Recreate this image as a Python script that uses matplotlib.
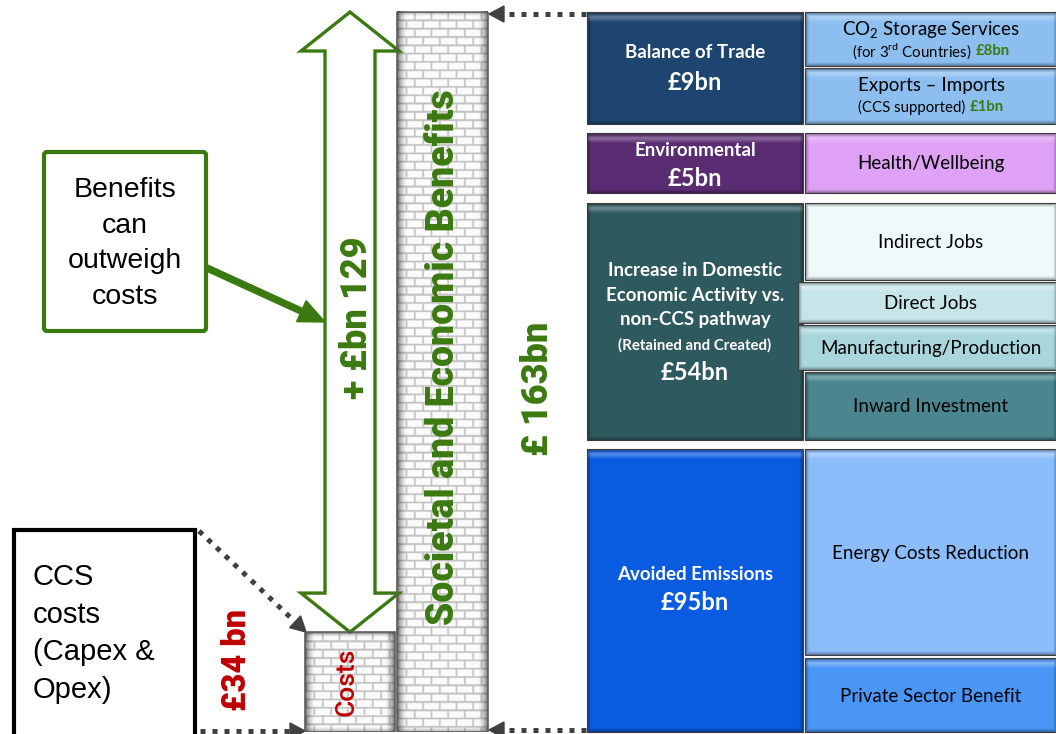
import numpy as np
import matplotlib
matplotlib.use("Agg")
import matplotlib.pyplot as plt
from matplotlib.patches import Polygon, Rectangle, FancyBboxPatch
from matplotlib.colors import to_rgb

# ---------------- data (£bn) ----------------
bar_labels = ["Costs", "Societal and Economic Benefits"]
bar_values = [34, 163]
net_benefit = 129

group_names = ["Balance of Trade", "Environmental",
               "Increase in Domestic\nEconomic Activity vs.\nnon-CCS pathway",
               "Avoided Emissions"]
group_notes = ["", "", "(Retained and Created)", ""]
group_values = [9, 5, 54, 95]

trade_items = [r"CO$_\mathregular{2}$ Storage Services", "Exports \u2013 Imports"]
trade_notes = [r"(for 3$^\mathregular{rd}$ Countries)", "(CCS supported)"]
trade_values = [8, 1]
env_items = ["Health/Wellbeing"]
domestic_items = ["Indirect Jobs", "Direct Jobs", "Manufacturing/Production", "Inward Investment"]
emission_items = ["Energy Costs Reduction", "Private Sector Benefit"]

# ---------------- styling ----------------
GREEN = "#3b7a10"
RED = "#c00000"
DARK = "#404040"
UI = ["Lato", "DejaVu Sans"]
BIG = ["Roboto", "DejaVu Sans"]
ARIAL = ["Liberation Sans", "DejaVu Sans"]

group_colors = ["#1d4570", "#5a2d73", "#2f5a60", "#0a5be0"]
trade_colors = ["#8cbff0", "#8cbff0"]
env_colors = ["#e0a2f5"]
domestic_colors = ["#eef9fb", "#c6e5ea", "#a9d6dd", "#4a8590"]
emission_colors = ["#8cbdfb", "#4a97f8"]

TXT = 13.5      # regular box text
HEAD = 13.5     # bold group heading
VAL = 17        # group value
NOTE = 10.8     # small notes

W, H = 1056, 734
fig = plt.figure(figsize=(W / 100, H / 100), dpi=100)
ax = fig.add_axes([0, 0, 1, 1])
ax.set_xlim(0, W)
ax.set_ylim(H, 0)
ax.axis("off")

# value axis for the two wall bars (power scale keeps the costs bar readable)
P = 1.26
bx = fig.add_axes([290 / W, 2 / H, 210 / W, 720 / H])
bx.set_xlim(290, 500)
bx.set_yscale("function", functions=(lambda v: np.sign(v) * np.abs(v) ** P,
                                     lambda v: np.sign(v) * np.abs(v) ** (1 / P)))
bx.set_ylim(0, max(bar_values))
bx.axis("off")
bx.patch.set_alpha(0)


def to_px(x, v):
    return ax.transData.inverted().transform(bx.transData.transform((x, v)))


def brick_wall(w, h, s=3):
    hh, ww = int(round(h * s)), int(round(w * s))
    yy, xx = np.mgrid[0:hh, 0:ww] / s
    rh, bw = 8.3, 16.7
    row = np.floor(yy / rh)
    xo = (xx + (row % 2) * bw / 2) % bw
    yo = yy % rh
    mortar = (yo < 1.8) | (xo < 1.8)
    g = np.where(mortar, 0.76, 0.985)
    d = np.minimum(xx, w - xx)
    g = g * (1 - 0.55 * np.clip(1 - d / 10, 0, 1) ** 1.6)
    dv = np.minimum(yy, h - yy)
    g = g * (1 - 0.3 * np.clip(1 - dv / 5, 0, 1))
    return np.dstack([g, g, g])


def bevel(w, h, color, s=2):
    base = np.array(to_rgb(color))
    yy, xx = np.mgrid[0:int(round(h * s)), 0:int(round(w * s))] / s
    img = np.ones(yy.shape + (3,)) * base
    top = np.clip(1 - np.abs(yy - 5) / 5, 0, 1)
    img = img + (1 - img) * 0.3 * top[..., None]
    e = np.minimum(np.minimum(xx, w - xx), np.minimum(yy, h - yy))
    edge = np.clip(1 - e / 4, 0, 1)
    img = img * (1 - 0.4 * edge[..., None])
    return img


def box(x0, y0, x1, y1, color, z=2):
    ax.imshow(bevel(x1 - x0, y1 - y0, color), extent=(x0, x1, y1, y0),
              aspect="auto", interpolation="bilinear", zorder=z)
    ax.add_patch(Rectangle((x0, y0), x1 - x0, y1 - y0, fill=False,
                           ec="#3c3c3c", lw=0.8, zorder=z + 0.1))


def dotted_arrow(p_from, p_to, head_len=15, head_w=16):
    p0, p1 = np.array(p_from, float), np.array(p_to, float)
    d = p1 - p0
    u = d / np.hypot(*d)
    n = np.array([-u[1], u[0]])
    base = p1 - u * head_len
    ax.plot([p0[0], base[0]], [p0[1], base[1]], color=DARK, lw=3.6,
            linestyle=(0, (1, 1.4)), dash_capstyle="butt", zorder=5)
    ax.add_patch(Polygon([p1, base + n * head_w / 2, base - n * head_w / 2],
                         closed=True, color=DARK, zorder=5))


def two_part(xc, y, s1, s2, size, c2, gap=4):
    r = fig.canvas.get_renderer()
    t1 = ax.text(0, y, s1, fontsize=size, family=UI, color="black",
                 ha="left", va="center", zorder=6)
    t2 = ax.text(0, y, s2, fontsize=size, family=UI, color=c2, weight="bold",
                 ha="left", va="center", zorder=6)
    w1 = t1.get_window_extent(r).width
    w2 = t2.get_window_extent(r).width
    left = xc - (w1 + gap + w2) / 2
    t1.set_x(left)
    t2.set_x(left + w1 + gap)


def heading(x, y, s, size):
    ax.text(x, y, s, color="white", fontsize=size, weight="bold",
            family=UI, ha="center", va="center", zorder=6)


# ---------------- wall bars ----------------
bars = bx.bar([350, 442.5], bar_values, width=[90, 91], color="none",
              edgecolor="#5e5e5e", linewidth=1.2, zorder=3)
for b in bars:
    (xa, ya) = to_px(b.get_x(), b.get_height())
    (xb, yb) = to_px(b.get_x() + b.get_width(), 0)
    ax.imshow(brick_wall(xb - xa, yb - ya), extent=(xa, xb, yb, ya),
              aspect="auto", interpolation="bilinear", zorder=1)

cost_mid = (to_px(350, bar_values[0])[1] + to_px(350, 0)[1]) / 2
ax.text(347, cost_mid, bar_labels[0], rotation=90, color=RED, fontsize=19,
        weight="medium", family=BIG, ha="center", va="center", zorder=4)
bcx = to_px(442.5, 0)[0]
ax.text(bcx + 1, 357, bar_labels[1], rotation=90, color=GREEN, fontsize=27,
        weight="black", family=BIG, ha="center", va="center", zorder=4)

# ---------------- hollow double arrow between costs and benefits ----------------
ax_c = 350
_, y_top = to_px(ax_c, bar_values[1])
_, y_bot = to_px(ax_c, bar_values[0])
hl, hw, sw = 39, 49, 25
arrow_pts = [(ax_c, y_top), (ax_c + hw, y_top + hl), (ax_c + sw, y_top + hl),
             (ax_c + sw, y_bot - hl), (ax_c + hw, y_bot - hl), (ax_c, y_bot),
             (ax_c - hw, y_bot - hl), (ax_c - sw, y_bot - hl), (ax_c - sw, y_top + hl),
             (ax_c - hw, y_top + hl)]
ax.add_patch(Polygon(arrow_pts, closed=True, fc="white", ec=GREEN, lw=2.4,
                     joinstyle="miter", zorder=3))
ax.text(357, 318, f"+ \u00a3bn {net_benefit}", rotation=90, color=GREEN,
        fontsize=26, weight="black", family=BIG, ha="center", va="center", zorder=4)

ax.text(538, 389, f"\u00a3 {bar_values[1]}bn", rotation=90, color=GREEN, fontsize=26,
        weight="black", family=BIG, ha="center", va="center", zorder=4)
ax.text(237, 660, f"\u00a3{bar_values[0]} bn", rotation=90, color=RED, fontsize=23.5,
        weight="black", family=BIG, ha="center", va="center", zorder=4)

# ---------------- dotted pointers ----------------
dotted_arrow((586, y_top + 2), (489, y_top + 2))
dotted_arrow((586, 730), (489, 730))
dotted_arrow((200, 731), (305, 731))
cost_left, cost_top = to_px(305, bar_values[0])
dotted_arrow((199, 531), (cost_left + 1, cost_top))

# ---------------- callout boxes ----------------
ax.add_patch(FancyBboxPatch((44, 152), 162, 179, boxstyle="round,pad=0,rounding_size=3",
                            fc="white", ec=GREEN, lw=3, zorder=4))
for i, line in enumerate(["Benefits", "can", "outweigh", "costs"]):
    ax.text(125, 190 + i * 35.7, line, fontsize=20.5, family=ARIAL, ha="center",
            va="center", zorder=5)
ax.arrow(207, 268, 118, 54, width=6, head_width=23, head_length=26,
         length_includes_head=True, fc=GREEN, ec=GREEN, zorder=5)

ax.add_patch(Rectangle((14, 530), 181, 215, fc="white", ec="black", lw=3, zorder=4))
for i, line in enumerate(["CCS", "costs", "(Capex &", "Opex)"]):
    ax.text(33, 577 + i * 37.7, line, fontsize=21, family=ARIAL, ha="left",
            va="center", zorder=5)

# ---------------- benefit breakdown ----------------
LX0, LX1, RX0, RX1 = 587, 803, 805, 1057
LC = (LX0 + LX1) / 2
RC = (RX0 + RX1) / 2
group_rows = [(12, 124), (133, 193), (203, 440), (449, 732)]
for (y0, y1), col in zip(group_rows, group_colors):
    box(LX0, y0, LX1, y1, col)

# Balance of trade
heading(LC, 53, group_names[0], HEAD)
heading(LC, 82, f"\u00a3{group_values[0]}bn", VAL)
trade_rows = [(12, 66), (68, 124)]
for (y0, y1), col, item, note, v in zip(trade_rows, trade_colors, trade_items,
                                        trade_notes, trade_values):
    box(RX0, y0, RX1, y1, col)
    ax.text(RC, y0 + 18, item, fontsize=TXT, family=UI, ha="center", va="center", zorder=6)
    two_part(RC, y0 + 39, note, f"\u00a3{v}bn", NOTE, GREEN)

# Environmental
heading(LC, 151, group_names[1], HEAD)
heading(LC, 179, f"\u00a3{group_values[1]}bn", VAL)
box(RX0, 133, RX1, 193, env_colors[0])
ax.text(RC, 164, env_items[0], fontsize=TXT, family=UI, ha="center", va="center", zorder=6)

# Domestic economic activity
for i, line in enumerate(group_names[2].split("\n")):
    heading(LC, 270 + i * 25, line, HEAD)
heading(LC, 345, group_notes[2], NOTE)
heading(LC, 372, f"\u00a3{group_values[2]}bn", VAL)
dom_rows = [(RX0, 203, 280), (798, 282, 323), (798, 325, 370), (RX0, 372, 440)]
for (x0, y0, y1), col, item in zip(dom_rows, domestic_colors, domestic_items):
    box(x0, y0, RX1, y1, col, z=3)
    ax.text(RC, (y0 + y1) / 2 + 1, item, fontsize=TXT, family=UI, ha="center",
            va="center", zorder=6)

# Avoided emissions
heading(LC, 575, group_names[3], HEAD)
heading(LC, 603, f"\u00a3{group_values[3]}bn", VAL)
em_rows = [(449, 655), (658, 732)]
for (y0, y1), col, item in zip(em_rows, emission_colors, emission_items):
    box(RX0, y0, RX1, y1, col)
    ax.text(RC, (y0 + y1) / 2 + 1, item, fontsize=TXT, family=UI, ha="center",
            va="center", zorder=6)

fig.savefig("out.png", dpi=100)
